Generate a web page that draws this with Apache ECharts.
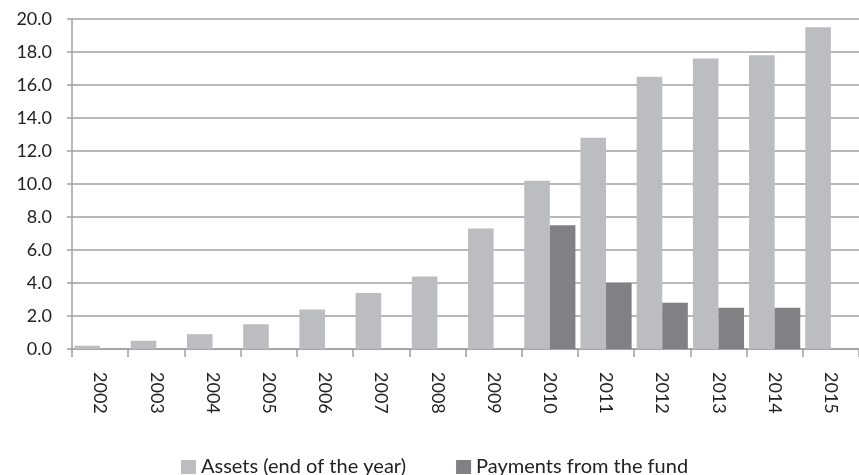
<!DOCTYPE html>
<html>
<head>
<meta charset="utf-8">
<script src="https://cdn.jsdelivr.net/npm/echarts@6/dist/echarts.min.js"></script>
<style>html,body{margin:0;padding:0;background:#fff;}#c{width:859px;height:475px;}</style>
</head>
<body>
<div id="c"></div>
<script>
var years = ['2002','2003','2004','2005','2006','2007','2008','2009','2010','2011','2012','2013','2014','2015'];
var assets = [0.2,0.5,0.9,1.5,2.4,3.4,4.4,7.3,10.2,12.8,16.5,17.6,17.8,19.5];
var payments = [0,0,0,0,0,0,0,0,7.5,4.0,2.8,2.5,2.5,null];
var yTicks = {min:0, max:20, interval:2};

var chart = echarts.init(document.getElementById('c'), null, {renderer:'canvas'});
var font = 'Lato, "Open Sans", sans-serif';
chart.setOption({
  animation:false,
  grid:{left:72, top:19, bottom:126, right:-10, containLabel:false},
  legend:{
    top:452, left:176, icon:'rect', itemWidth:15, itemHeight:14, itemGap:50,
    textStyle:{fontFamily:font, fontSize:20, color:'#222'},
    data:['Assets (end of the year)','Payments from the fund']
  },
  xAxis:{
    type:'category', data:years,
    axisLine:{show:true, lineStyle:{color:'#a0a0a0', width:1.5}},
    axisTick:{show:true, length:8, lineStyle:{color:'#a0a0a0', width:1.5}},
    axisLabel:{rotate:-90, margin:23, fontFamily:font, fontSize:18, color:'#222'}
  },
  yAxis:{
    type:'value', min:yTicks.min, max:yTicks.max, interval:yTicks.interval,
    axisLine:{show:true, lineStyle:{color:'#a0a0a0', width:1.5}},
    axisTick:{show:true, length:5, lineStyle:{color:'#a0a0a0', width:1.5}},
    splitLine:{show:true, lineStyle:{color:'#a0a0a0', width:1.5}},
    axisLabel:{margin:20, fontFamily:font, fontSize:18, color:'#222', formatter:function(v){return v.toFixed(1);}}
  },
  series:[
    {name:'Assets (end of the year)', type:'bar', data:assets, itemStyle:{color:'#bcbdc0'}, barGap:'0%', barCategoryGap:'9%'},
    {name:'Payments from the fund', type:'bar', data:payments, itemStyle:{color:'#808184'}, barGap:'0%', barCategoryGap:'9%'}
  ]
});
</script>
</body>
</html>
